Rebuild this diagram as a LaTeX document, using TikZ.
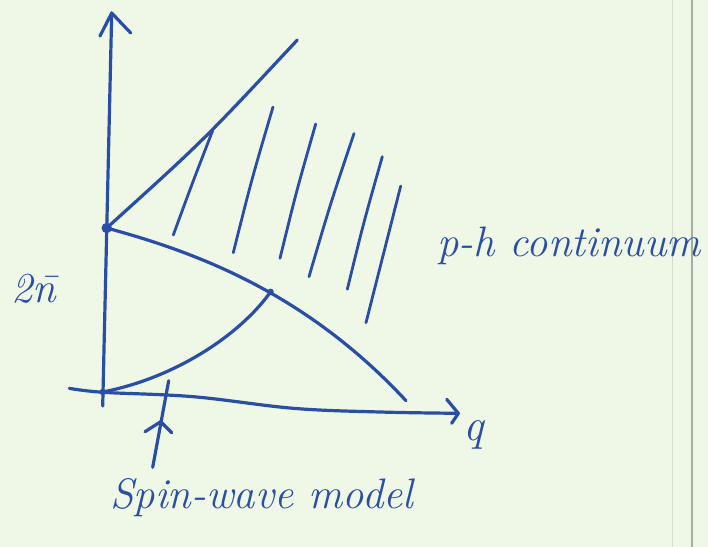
\documentclass[tikz,border=0pt]{standalone}
\usepackage{fontspec}
\definecolor{inkc}{RGB}{42,78,165}
\definecolor{paper}{RGB}{239,248,230}
\definecolor{marglight}{RGB}{212,222,206}
\definecolor{margdark}{RGB}{165,170,162}
\begin{document}
\begin{tikzpicture}[x=0.75pt,y=-0.75pt,
  ink/.style={draw=inkc,line width=2.4pt,line cap=round,line join=round},
  hatchline/.style={draw=inkc,line width=2.1pt,line cap=round},
  lbl/.style={text=inkc,inner sep=0pt,font=\itshape\fontsize{#1}{#1}\selectfont},
  lbl/.default=28]
\fill[paper] (0,0) rectangle (708,547);
\useasboundingbox (0,0) rectangle (708,547);
% notebook margin lines
\draw[marglight,line width=0.8pt] (672.5,0) -- (672.5,547);
\draw[margdark,line width=1.5pt] (692,0) -- (692,547);

% key points
\coordinate (ytip) at (111.7,13);
\coordinate (ybot) at (102.7,406);
\coordinate (gap) at (106.7,228);
\coordinate (O) at (102.7,392);
\coordinate (X) at (270.7,291.7);
\coordinate (uend) at (297.3,40);
\coordinate (lend) at (406,400.7);
\coordinate (xstart) at (69.3,388.3);
\coordinate (xtip) at (458.3,413.3);
\coordinate (ttop) at (168.7,380.7);
\coordinate (tbot) at (152.7,467.3);
\coordinate (tjoin) at (160.7,421.7);

% vertical axis
\draw[ink] (ybot) -- (ytip);
\draw[ink] (100,36) -- (ytip) -- (130.7,33);

% horizontal axis (hand-drawn, slightly sagging)
\draw[ink] plot[smooth,tension=0.6] coordinates {(69.3,388.3) (103.3,392.3) (193.3,396.7) (293.3,408.3) (380,412) (458.3,413.3)};
\draw[ink] (446.7,399.3) -- (xtip) -- (451.7,423.3);

% upper boundary of the continuum
\draw[ink] (gap) .. controls (204,140) .. (uend);
% lower boundary of the continuum
\draw[ink] (gap) .. controls (195,252) and (305,292) .. (lend);
% spin-wave branch
\draw[ink] (O) .. controls (175,378) and (240,335) .. (X);

% hatching of the p-h continuum
\draw[hatchline] (173.3,235) .. controls (192,184) .. (212.5,131);
\draw[hatchline] (233.3,252.7) .. controls (251.5,180) .. (273,107);
\draw[hatchline] (280,258.3) .. controls (296.5,191) .. (315.7,124);
\draw[hatchline] (309,276.7) .. controls (330,205) .. (354,133.5);
\draw[hatchline] (347.3,289.3) .. controls (363.5,223) .. (382.3,156.7);
\draw[hatchline] (366,322.7) .. controls (383,254) .. (400.7,186);

% dots
\fill[inkc] (gap) circle[radius=3.9pt];
\fill[inkc] (O) circle[radius=2.4pt];
\fill[inkc] (X) circle[radius=2.3pt];

% spin-wave pointer
\draw[ink] (tbot) -- (ttop);
\draw[ink] (145,431.7) -- (tjoin) -- (171.7,432.7);

% labels
\node[lbl=32,anchor=base west] (ph) at (437,256) {p-h continuum};
\node[lbl=32,anchor=base west] (sw) at (110,508) {Spin-wave model};
\node[lbl=34,anchor=base] (q) at (474,440) {q};
\node[lbl=32,anchor=base] (nbar) at (34,302) {2\={n}};
\end{tikzpicture}
\end{document}
